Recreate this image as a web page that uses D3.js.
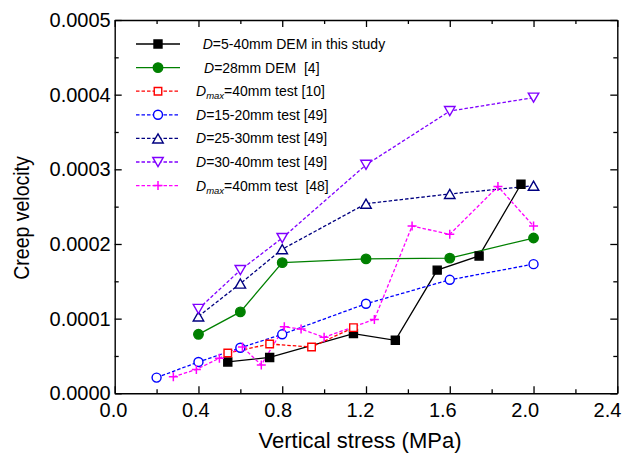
<!DOCTYPE html>
<html>
<head>
<meta charset="utf-8">
<script src="https://cdn.jsdelivr.net/npm/d3@7"></script>
<style>
  html, body { margin: 0; padding: 0; background: #fff; }
  svg { display: block; font-family: "Liberation Sans", Arial, sans-serif; }
  .legend-text { white-space: pre; }
</style>
</head>
<body>
<svg id="chart" width="633" height="454"></svg>
<script>
// Creep velocity vs vertical stress, DEM results and laboratory tests
const stressDEM = [0.54, 0.74, 1.14, 1.34, 1.54, 1.74, 1.94];
const velDEM    = [4.2e-5, 4.8e-5, 8.0e-5, 7.1e-5, 1.65e-4, 1.84e-4, 2.80e-4];

const stressDEM28 = [0.4, 0.6, 0.8, 1.2, 1.6, 2.0];
const velDEM28    = [7.9e-5, 1.09e-4, 1.75e-4, 1.80e-4, 1.81e-4, 2.08e-4];

const stressRef10 = [0.54, 0.74, 0.94, 1.14];
const velRef10    = [5.4e-5, 6.6e-5, 6.2e-5, 8.8e-5];

const stress1520 = [0.2, 0.4, 0.6, 0.8, 1.2, 1.6, 2.0];
const vel1520    = [2.1e-5, 4.2e-5, 6.1e-5, 7.9e-5, 1.20e-4, 1.52e-4, 1.73e-4];

const stress2530 = [0.4, 0.6, 0.8, 1.2, 1.6, 2.0];
const vel2530    = [1.03e-4, 1.47e-4, 1.93e-4, 2.54e-4, 2.67e-4, 2.78e-4];

const stress3040 = [0.4, 0.6, 0.8, 1.2, 1.6, 2.0];
const vel3040    = [1.13e-4, 1.65e-4, 2.08e-4, 3.06e-4, 3.78e-4, 3.96e-4];

const stressRef48 = [0.28, 0.39, 0.50, 0.61, 0.70, 0.81, 0.89, 1.00, 1.24, 1.42, 1.60, 1.83, 2.00];
const velRef48    = [2.2e-5, 3.2e-5, 4.7e-5, 6.2e-5, 3.8e-5, 8.9e-5, 8.6e-5, 7.5e-5, 9.9e-5, 2.24e-4, 2.13e-4, 2.77e-4, 2.24e-4];

const xTicks = [0.0, 0.4, 0.8, 1.2, 1.6, 2.0, 2.4];
const xMinor = [0.2, 0.6, 1.0, 1.4, 1.8, 2.2];
const yTicks = [0, 0.0001, 0.0002, 0.0003, 0.0004, 0.0005];
const yMinor = [0.00005, 0.00015, 0.00025, 0.00035, 0.00045];

const seriesNames = [
  ["D", "", "=5-40mm DEM in this study"],
  ["D", "", "=28mm DEM  [4]"],
  ["D", "max", "=40mm test [10]"],
  ["D", "", "=15-20mm test [49]"],
  ["D", "", "=25-30mm test [49]"],
  ["D", "", "=30-40mm test [49]"],
  ["D", "max", "=40mm test  [48]"]
];

const svg = d3.select("#chart");
const plotLeft = 114.7, plotRight = 617.3, plotTop = 20, plotBottom = 393.3;

const x = d3.scaleLinear().domain([0, 2.4]).range([plotLeft, plotRight]);
const y = d3.scaleLinear().domain([0, 0.0005]).range([plotBottom, plotTop]);
// tick-label placement along the x axis
const xLab = d3.scaleLinear().domain([0, 2.4]).range([113, 607]);

// marker shapes (centred on their bounding box)
const shapes = {
  square: (s) => `M${-s/2},${-s/2}h${s}v${s}h${-s}Z`,
  circle: (s) => `M${s/2},0A${s/2},${s/2} 0 1,1 ${-s/2},0A${s/2},${s/2} 0 1,1 ${s/2},0Z`,
  triUp: (s) => { const h = s * 0.87; return `M0,${-h/2}L${s/2},${h/2}L${-s/2},${h/2}Z`; },
  triDown: (s) => { const h = s * 0.87; return `M0,${h/2}L${s/2},${-h/2}L${-s/2},${-h/2}Z`; },
  plus: (s) => `M${-s/2},0H${s/2}M0,${-s/2}V${s/2}`
};

const series = [
  { xs: stressDEM,   ys: velDEM,    color: "#000000", dash: null,    shape: "square",  size: 8,   fill: true },
  { xs: stressDEM28, ys: velDEM28,  color: "#008000", dash: null,    shape: "circle",  size: 9.5, fill: true },
  { xs: stressRef10, ys: velRef10,  color: "#ff0000", dash: "3.5,2", shape: "square",  size: 7.5, fill: false },
  { xs: stress1520,  ys: vel1520,   color: "#0000ff", dash: "3.5,2", shape: "circle",  size: 9,   fill: false },
  { xs: stress2530,  ys: vel2530,   color: "#000080", dash: "3.5,2", shape: "triUp",   size: 10.5, fill: false },
  { xs: stress3040,  ys: vel3040,   color: "#8000ff", dash: "3.5,2", shape: "triDown", size: 10.5, fill: false },
  { xs: stressRef48, ys: velRef48,  color: "#ff00ff", dash: "3.5,2", shape: "plus",    size: 9,   fill: false }
];

// axes: major/minor ticks pointing inwards on all four sides
function frameAxis(axisFn, scale, transform, major, minor) {
  const g = svg.append("g").attr("transform", transform);
  g.call(axisFn(scale).tickValues(major).tickSize(-7).tickSizeOuter(0).tickFormat(""));
  const gm = svg.append("g").attr("transform", transform);
  gm.call(axisFn(scale).tickValues(minor).tickSize(-4).tickSizeOuter(0).tickFormat(""));
  gm.select(".domain").remove();
  [g, gm].forEach(s => {
    s.selectAll("line").attr("stroke", "#000").attr("stroke-width", 1.3);
    s.selectAll(".domain").attr("stroke", "#000").attr("stroke-width", 1.4);
  });
}
frameAxis(d3.axisBottom, x, `translate(0,${plotBottom})`, xTicks, xMinor);
frameAxis(d3.axisTop, x, `translate(0,${plotTop})`, xTicks, xMinor);
frameAxis(d3.axisLeft, y, `translate(${plotLeft},0)`, yTicks, yMinor);
frameAxis(d3.axisRight, y, `translate(${plotRight},0)`, yTicks, yMinor);

// tick labels
const xl = svg.append("g").attr("transform", `translate(0,${plotBottom})`)
  .call(d3.axisBottom(xLab).tickValues(xTicks).tickSize(0).tickPadding(10).tickFormat(d3.format(".1f")));
xl.select(".domain").remove();
xl.selectAll("text").attr("font-size", 20).attr("font-family", "Liberation Sans, Arial, sans-serif").attr("fill", "#000");

const yl = svg.append("g").attr("transform", `translate(${plotLeft},0)`)
  .call(d3.axisLeft(y).tickValues(yTicks).tickSize(0).tickPadding(4).tickFormat(d3.format(".4f")));
yl.select(".domain").remove();
yl.selectAll("text").attr("font-size", 20).attr("font-family", "Liberation Sans, Arial, sans-serif").attr("fill", "#000");

// axis titles
svg.append("text")
  .attr("x", 360).attr("y", 448)
  .attr("text-anchor", "middle")
  .attr("font-size", 22)
  .text("Vertical stress (MPa)");

svg.append("text")
  .attr("transform", "translate(29,218) scale(1.15,1) rotate(-90)")
  .attr("text-anchor", "middle")
  .attr("font-size", 19.5)
  .text("Creep velocity");

// data lines and markers
const plot = svg.append("g");
series.forEach(s => {
  const pts = s.xs.map((v, i) => [v, s.ys[i]]);
  const line = d3.line().x(d => x(d[0])).y(d => y(d[1]));
  plot.append("path")
    .attr("d", line(pts))
    .attr("fill", "none")
    .attr("stroke", s.color)
    .attr("stroke-width", 1.3)
    .attr("stroke-dasharray", s.dash);
});
series.forEach(s => {
  const pts = s.xs.map((v, i) => [v, s.ys[i]]);
  plot.append("g").selectAll("path").data(pts).join("path")
    .attr("transform", d => `translate(${x(d[0])},${y(d[1])})`)
    .attr("d", shapes[s.shape](s.size))
    .attr("fill", s.fill ? s.color : (s.shape === "plus" ? "none" : "#fff"))
    .attr("stroke", s.color)
    .attr("stroke-width", s.shape === "plus" ? 1.5 : 1.4);
});

// legend
const legend = svg.append("g");
const textX = [202.7, 204, 196, 196, 196, 196, 196];
series.forEach((s, i) => {
  const ly = 44 + i * 23.6;
  legend.append("line")
    .attr("x1", 136).attr("x2", 180).attr("y1", ly).attr("y2", ly)
    .attr("stroke", s.color).attr("stroke-width", 1.3)
    .attr("stroke-dasharray", s.dash);
  legend.append("path")
    .attr("transform", `translate(158,${ly})`)
    .attr("d", shapes[s.shape](s.size))
    .attr("fill", s.fill ? s.color : (s.shape === "plus" ? "none" : "#fff"))
    .attr("stroke", s.color)
    .attr("stroke-width", s.shape === "plus" ? 1.5 : 1.4);
  const [sym, sub, rest] = seriesNames[i];
  const t = legend.append("text")
    .attr("class", "legend-text")
    .attr("x", textX[i]).attr("y", ly + 5)
    .attr("font-size", 14)
    .attr("fill", "#000");
  t.append("tspan").attr("font-style", "italic").text(sym);
  if (sub) {
    t.append("tspan").attr("font-style", "italic").attr("font-size", 9.5).attr("dy", 3).text(sub);
    t.append("tspan").attr("dy", -3).text(rest);
  } else {
    t.append("tspan").text(rest);
  }
});
</script>
</body>
</html>
